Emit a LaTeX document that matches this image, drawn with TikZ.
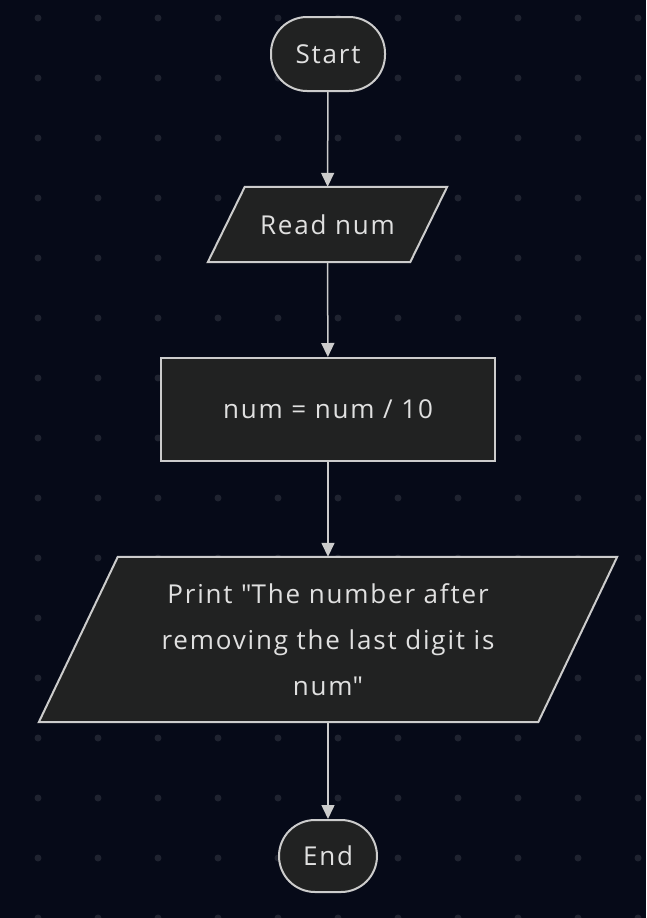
\documentclass[tikz,border=0pt]{standalone}
\usepackage{fontspec}
\setmainfont{Open Sans}[LetterSpace=7]
\usetikzlibrary{arrows.meta,backgrounds}
\definecolor{bgcol}{HTML}{060A18}
\definecolor{dotcol}{HTML}{1F2330}
\definecolor{boxfill}{HTML}{212222}
\definecolor{boxline}{HTML}{CCCCCC}
\definecolor{txtcol}{HTML}{E0E0E0}
\begin{document}
\begin{tikzpicture}[x=1pt, y=-1pt,
  every node/.style={font=\fontsize{26}{46}\selectfont, text=txtcol},
  boxshape/.style={fill=boxfill, draw=boxline, line width=2pt},
  terminal/.style={shape=rectangle, rounded corners=36pt, boxshape, inner sep=0pt},
  inout/.style={shape=rectangle, inner sep=0pt, align=center},
  process/.style={shape=rectangle, boxshape, inner sep=0pt},
  flow/.style={draw=boxline, line width=1.5pt, -{Triangle[width=13pt,length=14pt]}}]
    \useasboundingbox (0,0) rectangle (646,918);
    % dotted background
    \begin{scope}[on background layer]
      \fill[bgcol] (0,0) rectangle (646,918);
      \foreach \i in {38,98,...,638}
        \foreach \j in {18,78,...,918}
          \fill[dotcol] (\i,\j) circle (3.5pt);
    \end{scope}
    \node (start) at (328,54) [terminal, minimum width=114pt, minimum height=74pt] {Start};
    \node (read) at (327.5,224.5) [inout, minimum width=202pt, minimum height=75pt] {Read num};
    \node (div) at (328,409.5) [process, minimum width=334pt, minimum height=103pt] {num = num / 10};
    \node (print) at (328,639.5) [inout, minimum width=499pt, minimum height=165pt]
          {Print \textquotedbl The number after\\removing the last digit is\\num\textquotedbl};
    \node (stop) at (328,856) [terminal, minimum width=98pt, minimum height=72pt] {End};

    % slanted in/out boxes behind their text
    \begin{scope}[on background layer]
      \draw[boxshape] ([xshift=18.5pt]read.north west) -- ([xshift=18.5pt]read.north east)
        -- ([xshift=-18.5pt]read.south east) -- ([xshift=-18.5pt]read.south west) -- cycle;
      \draw[boxshape] ([xshift=39.5pt]print.north west) -- ([xshift=39.5pt]print.north east)
        -- ([xshift=-39.5pt]print.south east) -- ([xshift=-39.5pt]print.south west) -- cycle;
    \end{scope}

    \draw[flow] (start) -- (read);
    \draw[flow] (read) -- (div);
    \draw[flow] (div) -- (print);
    \draw[flow] (print) -- (stop);
\end{tikzpicture}
\end{document}
